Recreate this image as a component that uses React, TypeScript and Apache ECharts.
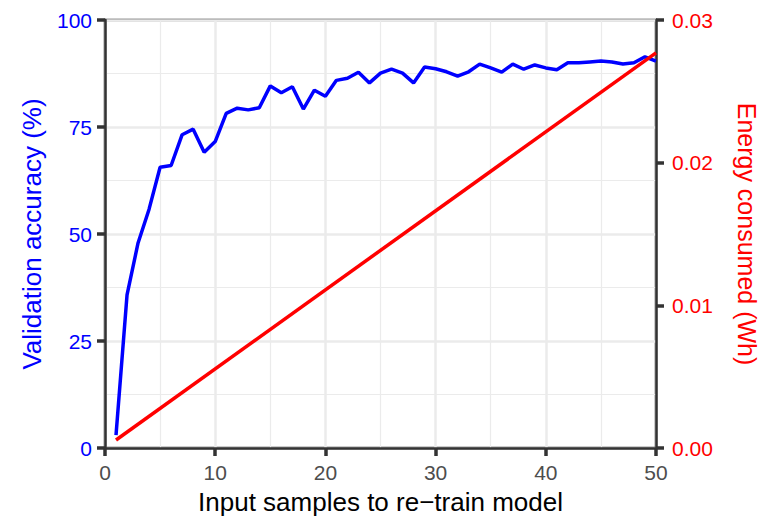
import React, { useEffect, useRef } from "react";
import * as echarts from "echarts";

const samples = [
  1, 2, 3, 4, 5, 6, 7, 8, 9, 10, 11, 12, 13, 14, 15, 16, 17, 18, 19, 20, 21, 22, 23, 24, 25,
  26, 27, 28, 29, 30, 31, 32, 33, 34, 35, 36, 37, 38, 39, 40, 41, 42, 43, 44, 45, 46, 47, 48, 49, 50,
];
const accuracy = [
  3.0, 35.8, 47.9, 55.8, 65.6, 66.0, 73.2, 74.5, 69.1, 71.6, 78.2, 79.4, 79.0, 79.5, 84.6,
  83.0, 84.4, 79.2, 83.6, 82.2, 85.9, 86.4, 87.8, 85.3, 87.6, 88.5, 87.6, 85.3, 89.0, 88.6,
  87.9, 86.9, 87.9, 89.7, 88.8, 87.8, 89.7, 88.5, 89.5, 88.8, 88.4, 90.0, 90.0, 90.2, 90.4,
  90.2, 89.7, 90.0, 91.4, 90.4,
];
const energySamples = [1, 50];
const energy = [0.00056, 0.0277];

const xTicks = [0, 10, 20, 30, 40, 50];
const accTicks = [0, 25, 50, 75, 100];
const energyTicks = [0, 0.01, 0.02, 0.03];

const FONT = "Liberation Sans, Arial, sans-serif";

export default function App() {
  const ref = useRef<HTMLDivElement>(null);
  useEffect(() => {
    if (!ref.current) return;
    document.body.style.margin = "0";
    document.body.style.overflow = "hidden";
    const chart = echarts.init(ref.current, undefined, { renderer: "svg" });
    const axisLine = { show: true, lineStyle: { color: "#333333", width: 2.5 } };
    const axisTick = { show: true, length: 8, lineStyle: { color: "#333333", width: 3.5 } };
    const splitLine = { show: true, lineStyle: { color: "#EBEBEB", width: 2.5 } };
    const minorSplitLine = { show: true, lineStyle: { color: "#EBEBEB", width: 1.2 } };
    chart.setOption({
      animation: false,
      backgroundColor: "#ffffff",
      grid: {
        left: 105,
        right: 110,
        top: 20,
        bottom: 72,
        show: true,
        borderColor: "#333333",
        borderWidth: 2.5,
        containLabel: false,
      },
      xAxis: {
        type: "value",
        min: xTicks[0],
        max: xTicks[xTicks.length - 1],
        interval: 10,
        axisLine,
        axisTick,
        splitLine,
        minorTick: { show: false, splitNumber: 2 },
        minorSplitLine,
        axisLabel: { color: "#4D4D4D", fontSize: 21, fontFamily: FONT, margin: 14 },
        name: "Input samples to re\u2212train model",
        nameLocation: "middle",
        nameGap: 41,
        nameTextStyle: { color: "#000000", fontSize: 26, fontFamily: FONT },
      },
      yAxis: [
        {
          type: "value",
          min: accTicks[0],
          max: accTicks[accTicks.length - 1],
          interval: 25,
          axisLine,
          axisTick,
          splitLine,
          minorTick: { show: false, splitNumber: 2 },
          minorSplitLine,
          axisLabel: { color: "#0000FF", fontSize: 21, fontFamily: FONT, margin: 13 },
          name: "Validation accuracy (%)",
          nameLocation: "middle",
          nameRotate: 90,
          nameGap: 60,
          nameTextStyle: { color: "#0000FF", fontSize: 26, fontFamily: FONT },
        },
        {
          type: "value",
          position: "right",
          min: energyTicks[0],
          max: energyTicks[energyTicks.length - 1],
          interval: 0.01,
          axisLine,
          axisTick,
          splitLine: { show: false },
          axisLabel: {
            color: "#FF0000",
            fontSize: 21,
            fontFamily: FONT,
            margin: 16,
            formatter: (v: number) => v.toFixed(2),
          },
          name: "Energy consumed (Wh)",
          nameLocation: "middle",
          nameRotate: -90,
          nameGap: 78,
          nameTextStyle: { color: "#FF0000", fontSize: 25, fontFamily: FONT },
        },
      ],
      series: [
        {
          type: "line",
          yAxisIndex: 0,
          data: samples.map((s, i) => [s, accuracy[i]]),
          showSymbol: false,
          lineStyle: { color: "#0000FF", width: 3.5 },
          z: 3,
        },
        {
          type: "line",
          yAxisIndex: 1,
          data: energySamples.map((s, i) => [s, energy[i]]),
          showSymbol: false,
          lineStyle: { color: "#FF0000", width: 3.5 },
          z: 3,
        },
      ],
    });
    return () => chart.dispose();
  }, []);
  return (
    <div
      ref={ref}
      style={{ position: "absolute", left: 0, top: 0, width: 767, height: 520 }}
    />
  );
}
